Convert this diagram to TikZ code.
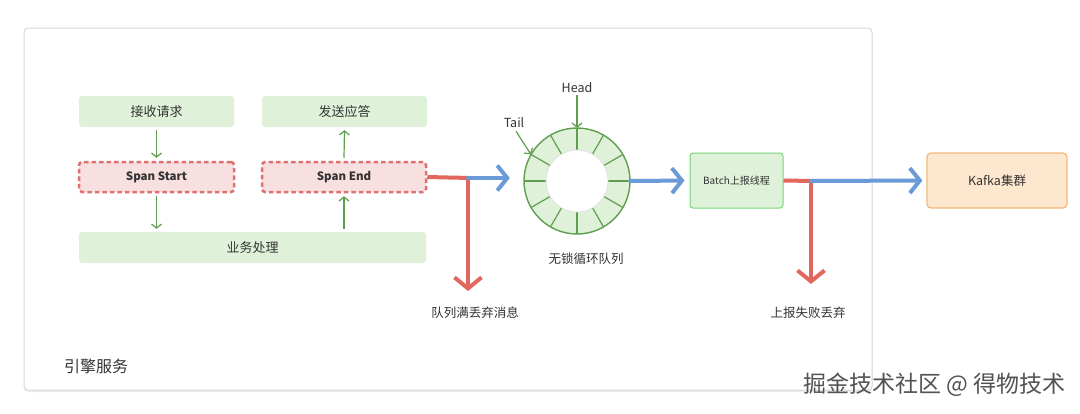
\documentclass[tikz,border=0pt]{standalone}
\usepackage{fontspec}
\setmainfont{Noto Sans CJK SC}
\usetikzlibrary{arrows.meta}
\definecolor{gfill}{HTML}{DFF2D9}
\definecolor{gline}{HTML}{5E9E4E}
\definecolor{rfill}{HTML}{F9E0E0}
\definecolor{rline}{HTML}{E07070}
\definecolor{redc}{HTML}{E2685E}
\definecolor{bluec}{HTML}{6A9AD8}
\definecolor{ofill}{HTML}{FDE7CF}
\definecolor{oline}{HTML}{F2B878}
\definecolor{txt}{HTML}{333333}
\definecolor{framec}{HTML}{D8D8D8}
\tikzset{
  gbox/.style={fill=gfill, rounded corners=3pt, inner sep=0pt, text=txt, font=\fontsize{13}{15}\selectfont},
  spanbox/.style={fill=rfill, draw=rline, line width=2.5pt, dash pattern=on 4.5pt off 3pt, rounded corners=3pt, inner sep=0pt, text=txt, font=\bfseries\fontsize{11.5}{13}\selectfont},
  garrow/.style={draw=gline, line width=1.2pt, -{Straight Barb[length=4pt,width=10pt]}},
  bigred/.style={draw=redc, line width=4pt, line cap=round, -{Straight Barb[length=11pt,width=27pt]}},
  redl/.style={draw=redc, line width=4pt},
  bigblue/.style={draw=bluec, line width=4pt, line cap=round, -{Straight Barb[length=10pt,width=25pt]}},
  lbl/.style={text=txt, inner sep=0pt, font=\fontsize{12.5}{14}\selectfont},
}
\begin{document}
\begin{tikzpicture}[x=1pt,y=-1pt]
\useasboundingbox (0,0) rectangle (1080,413);
\fill[white] (0,0) rectangle (1080,413);
% frame
\fill[black!8, rounded corners=4pt] (24,29.5) rectangle (872.5,392);
\draw[framec, fill=white, line width=1pt, rounded corners=4pt] (24,28) rectangle (872,390);
\node[lbl, anchor=west, font=\fontsize{16}{18}\selectfont] (engine) at (64,366) {引擎服务};

% left boxes
\node[gbox, minimum width=155pt, minimum height=31pt] (recv) at (156.5,111.5) {接收请求};
\node[gbox, minimum width=165pt, minimum height=31pt] (send) at (344.5,111.5) {发送应答};
\node[spanbox, minimum width=155pt, minimum height=30pt] (sstart) at (156.5,177) {Span Start};
\node[spanbox, minimum width=164pt, minimum height=30pt] (send2) at (344,177) {Span End};
\node[gbox, minimum width=347pt, minimum height=31pt] (biz) at (252.5,247.5) {业务处理};

\draw[garrow] ([yshift=-3pt]recv.south) -- ([yshift=3pt]sstart.north);
\draw[garrow] ([yshift=-3pt]sstart.south) -- ([yshift=3pt]biz.north -| sstart.south);
\draw[garrow] ([yshift=3pt]biz.north -| send2.south) -- ([yshift=-3pt]send2.south);
\draw[garrow] ([yshift=3pt]send2.north) -- ([yshift=-3pt]send.south);

% ring
\node[circle, minimum size=106pt, inner sep=0pt] (ring) at (577,181) {};
\fill[gfill] (ring.center) circle (53pt);
\foreach \a in {0,30,...,330}
  \draw[gline, line width=1.2pt] (ring.center) ++(\a:31pt) -- ++(\a:22pt);
\draw[gline, line width=1.4pt] (ring.center) circle (53pt);
\fill[white] (ring.center) circle (31pt);
\draw[black!12, line width=0.8pt] (ring.center) circle (31pt);
\node[lbl] (head) at (577,88) {Head};
\node[lbl] (tail) at (514,123) {Tail};
\node[lbl] (qlabel) at (586,259) {无锁循环队列};
\draw[garrow] ([yshift=-2pt]head.south) -- (ring.north);
\draw[garrow] ([xshift=2pt,yshift=-3pt]tail.south) -- (ring.150);

% first split
\coordinate (split1) at (468,178);
\coordinate (drop1) at (468,291);
\node[lbl] (full) at (475,313) {队列满丢弃消息};
\draw[redl] (send2.east) -- ([xshift=2pt]split1);
\draw[bigred] (split1) -- (drop1);
\draw[bigblue, shorten >=14pt] (split1) -- (split1 -| ring.west);

% batch
\node[fill=gfill, draw=green!55!gray!70, line width=1pt, rounded corners=3pt, minimum width=93pt, minimum height=55pt, inner sep=0pt, text=txt, font=\fontsize{10}{12}\selectfont] (batch) at (736.5,180.5) {Batch上报线程};
\draw[bigblue, shorten >=5pt] (ring.east) -- (batch.west);

% kafka
\node[fill=ofill, draw=oline, line width=1.2pt, rounded corners=4pt, minimum width=140pt, minimum height=55pt, inner sep=0pt, text=txt, font=\fontsize{12.5}{14}\selectfont] (kafka) at (997,180.5) {Kafka集群};

\coordinate (split2) at (811,181);
\coordinate (drop2) at (811,284);
\node[lbl] (fail) at (808,313) {上报失败丢弃};
\draw[redl] (batch.east) -- ([xshift=2pt]split2);
\draw[bigred] (split2) -- (drop2);
\draw[bigblue, shorten >=4pt] (split2) -- (kafka.west);

% watermark
\node[anchor=east, inner sep=0pt, text=black!68, font=\fontsize{23}{26}\selectfont] (wm) at (1066,385) {掘金技术社区 @ 得物技术};
\end{tikzpicture}
\end{document}
